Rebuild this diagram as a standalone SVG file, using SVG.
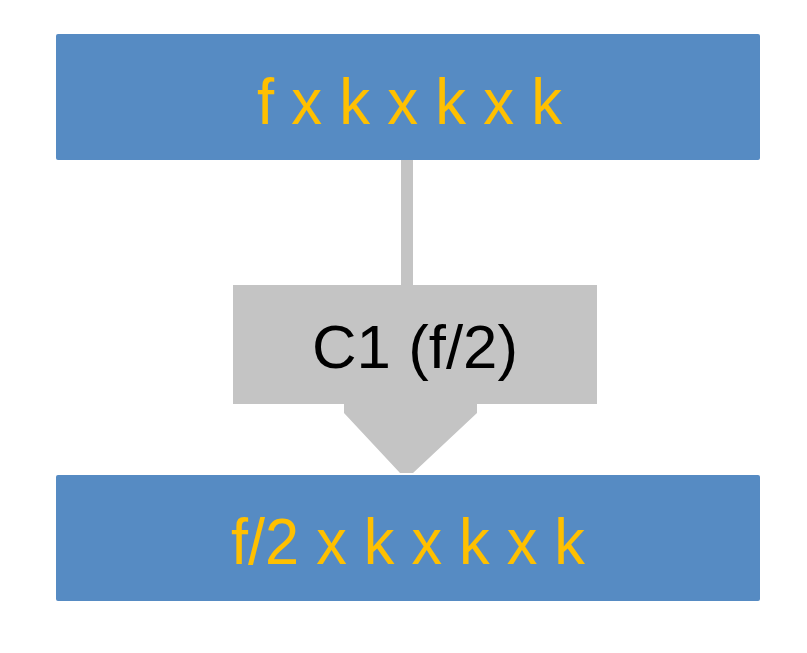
<svg xmlns="http://www.w3.org/2000/svg" width="807" height="653" viewBox="0 0 807 653">
<style>
.box{fill:#568BC3;}
.lbl{font-family:"Liberation Sans",Arial,sans-serif;font-size:64px;fill:#FFC000;text-anchor:start;}
.conn{fill:#C4C4C4;}
.ctext{font-family:"Liberation Sans",Arial,sans-serif;font-size:62px;fill:#000;}
</style>
<rect width="807" height="653" fill="#fff"/>
<g id="connectors">
<rect class="conn" x="401" y="160" width="12" height="126"/>
</g>
<g id="top">
<rect class="box" x="56" y="34" width="704" height="126" rx="2"/>
<text class="lbl" x="257" y="124" textLength="305" lengthAdjust="spacingAndGlyphs">f x k x k x k</text>
</g>
<g id="c1">
<polygon class="conn" points="233,285 597,285 597,404 477,404 477,413 413,473 400,473 344,413 344,404 233,404"/>
<text class="ctext" x="312" y="368" textLength="206" lengthAdjust="spacingAndGlyphs">C1 (f/2)</text>
</g>
<g id="bottom">
<rect class="box" x="56" y="475" width="704" height="126" rx="2"/>
<text class="lbl" x="231" y="564" textLength="354" lengthAdjust="spacingAndGlyphs">f/2 x k x k x k</text>
</g>
</svg>
